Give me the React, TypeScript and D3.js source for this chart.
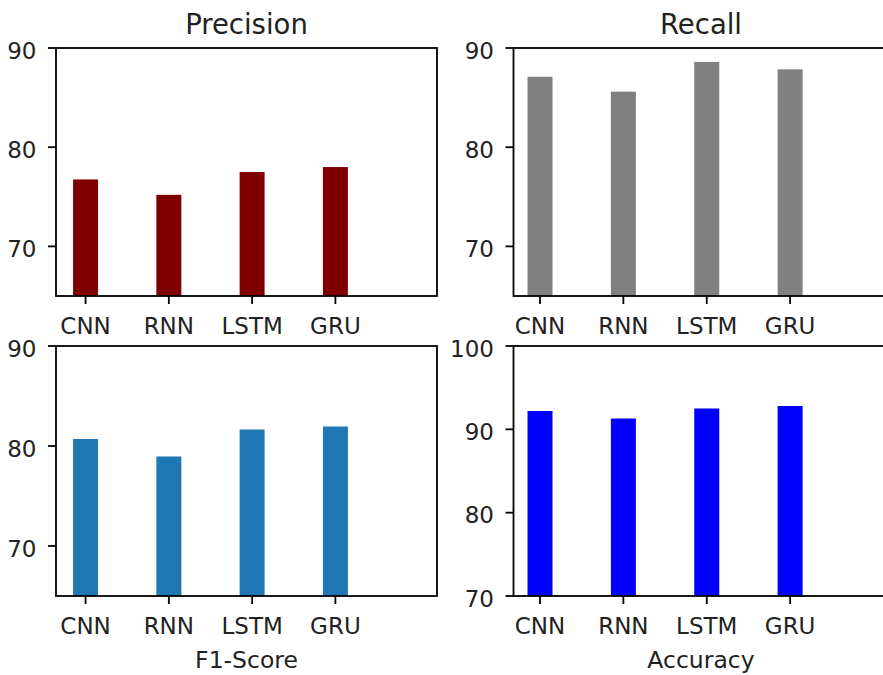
import React from 'react';
import * as d3 from 'd3';

const categories = ['CNN', 'RNN', 'LSTM', 'GRU'];
const precisionValues = [76.75, 75.2, 77.5, 78.0];
const recallValues = [87.1, 85.6, 88.6, 87.85];
const f1Values = [80.7, 78.95, 81.65, 81.95];
const accuracyValues = [92.2, 91.3, 92.5, 92.8];
const ticks6590 = [70, 80, 90];
const ticks70100 = [70, 80, 90, 100];

const FONT = '"DejaVu Sans", "Liberation Sans", sans-serif';

// one entry per subplot; values come from the arrays above
const panels = [
    { title: 'Precision', xlabel: '', values: precisionValues, color: '#800000',
      left: 56, top: 48, width: 381, height: 248, yDomain: [65, 90], yTicks: ticks6590, xDomain: [-0.355, 4.22] },
    { title: 'Recall', xlabel: '', values: recallValues, color: '#808080',
      left: 513.5, top: 48, width: 375, height: 248, yDomain: [65, 90], yTicks: ticks6590, xDomain: [-0.318, 4.18] },
    { title: '', xlabel: 'F1-Score', values: f1Values, color: '#1f77b4',
      left: 56, top: 346, width: 381, height: 250, yDomain: [65, 90], yTicks: ticks6590, xDomain: [-0.355, 4.22] },
    { title: '', xlabel: 'Accuracy', values: accuracyValues, color: '#0000ff',
      left: 513.5, top: 346, width: 375, height: 250, yDomain: [70, 100], yTicks: ticks70100, xDomain: [-0.318, 4.18] },
];

const App = () => {
    const svgRef = React.useRef<SVGSVGElement>(null);

    React.useEffect(() => {
        const svg = d3.select(svgRef.current);
        svg.selectAll('*').remove();

        panels.forEach(p => {
            const x = d3.scaleLinear().domain(p.xDomain).range([0, p.width]);
            const y = d3.scaleLinear().domain(p.yDomain).range([p.height, 0]);
            const barW = x(0.3) - x(0);

            const g = svg.append('g').attr('transform', `translate(${p.left},${p.top})`);

            g.selectAll('.bar')
                .data(p.values)
                .join('rect')
                .attr('class', 'bar')
                .attr('x', (d, i) => x(i) - barW / 2)
                .attr('width', barW)
                .attr('y', d => y(d))
                .attr('height', d => p.height - y(d))
                .attr('fill', p.color);

            // frame (spines)
            g.append('rect')
                .attr('width', p.width).attr('height', p.height)
                .attr('fill', 'none').attr('stroke', '#000').attr('stroke-width', 1.8);

            // y ticks
            const yt = g.selectAll('.ytick').data(p.yTicks).join('g')
                .attr('transform', d => `translate(0,${y(d)})`);
            yt.append('line').attr('x1', -8).attr('x2', 0)
                .attr('stroke', '#000').attr('stroke-width', 1.8);
            yt.append('text').attr('x', -19.5).attr('y', 10.5)
                .attr('text-anchor', 'end')
                .attr('font-family', FONT).attr('font-size', 23).attr('fill', '#222')
                .text(d => d);

            // x ticks
            const xt = g.selectAll('.xtick').data(categories).join('g')
                .attr('transform', (d, i) => `translate(${x(i)},${p.height})`);
            xt.append('line').attr('y1', 0).attr('y2', 8)
                .attr('stroke', '#000').attr('stroke-width', 1.8);
            xt.append('text').attr('y', 38)
                .attr('text-anchor', 'middle')
                .attr('font-family', FONT).attr('font-size', 23).attr('fill', '#222')
                .text(d => d);

            if (p.title) {
                g.append('text')
                    .attr('x', p.width / 2).attr('y', -14.5)
                    .attr('text-anchor', 'middle')
                    .attr('font-family', FONT).attr('font-size', 27.5).attr('fill', '#222')
                    .text(p.title);
            }
            if (p.xlabel) {
                g.append('text')
                    .attr('x', p.width / 2).attr('y', p.height + 72)
                    .attr('text-anchor', 'middle')
                    .attr('font-family', FONT).attr('font-size', 23.5).attr('fill', '#222')
                    .text(p.xlabel);
            }
        });
    }, []);

    return (
        <svg ref={svgRef} width={883} height={675}
            style={{ position: 'absolute', left: 0, top: 0, background: '#fff' }} />
    );
};

export default App;
